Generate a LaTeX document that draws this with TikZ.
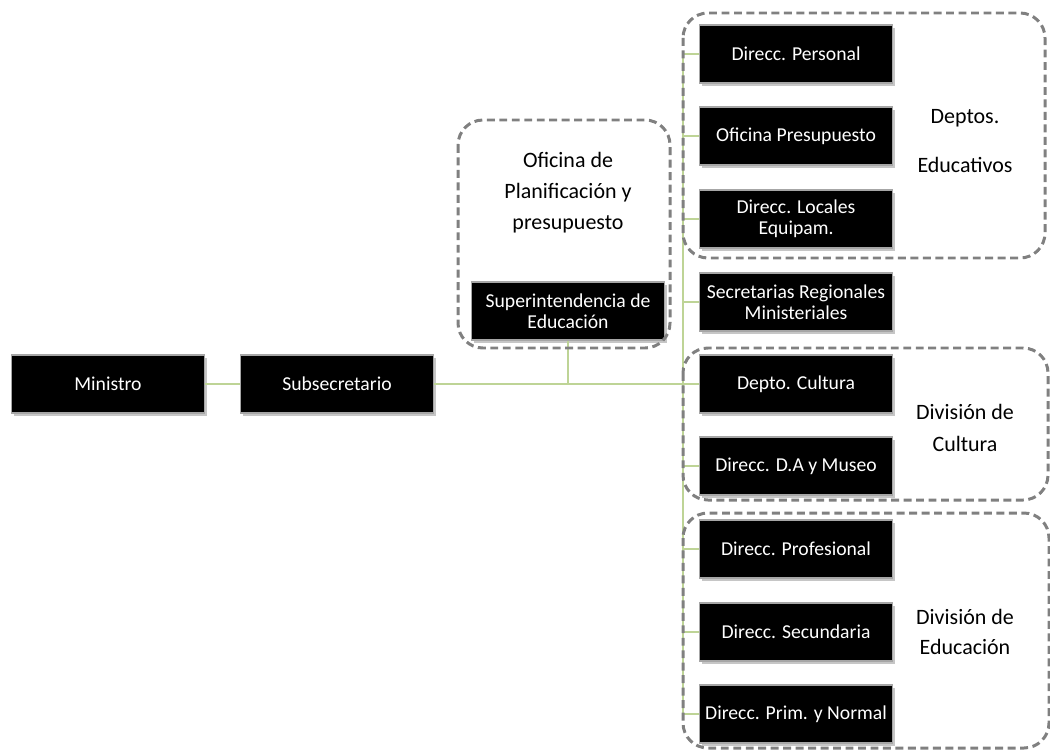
\documentclass[tikz,border=0pt]{standalone}
\usepackage{fontspec}
\setmainfont{Carlito}
\usetikzlibrary{shadows}

\definecolor{linkgreen}{RGB}{190,212,150}
\definecolor{groupgray}{RGB}{128,128,128}

\tikzset{
    unitbox/.style={draw=gray!70, line width=0.6pt, fill=black, text=white,
        minimum width=3.86cm, minimum height=1.16cm, inner sep=1pt,
        align=center, font=\fontsize{11.2}{12}\selectfont,
        drop shadow={opacity=0.45, shadow xshift=0.5mm, shadow yshift=-0.6mm}},
    grouplabel/.style={align=center, font=\fontsize{12.5}{15}\selectfont},
    groupbox/.style={draw=groupgray, line width=1.7pt, rounded corners=0.5cm,
        dash pattern=on 4.5pt off 2.6pt},
    link/.style={draw=linkgreen, line width=1.1pt}
}

\begin{document}
\begin{tikzpicture}[x=0.02cm, y=-0.02cm]
\useasboundingbox (0,0) rectangle (1050,750);

% trunk of the right column
\coordinate (trunk) at (683,384);

% main line
\node[unitbox] (ministro) at (108,384) {Ministro};
\node[unitbox] (subsec) at (337,384) {Subsecretario};
\node[unitbox] (superint) at (568,311) {Superintendencia de\\Educación};

% right column
\node[unitbox] (personal) at (796,54) {Direcc. Personal};
\node[unitbox] (presup) at (796,136) {Oficina Presupuesto};
\node[unitbox] (locales) at (796,219) {Direcc. Locales\\Equipam.};
\node[unitbox] (seremi) at (796,302) {Secretarias Regionales\\Ministeriales};
\node[unitbox] (cultura) at (796,384) {Depto. Cultura};
\node[unitbox] (museo) at (796,466) {Direcc. D.A y Museo};
\node[unitbox] (profesional) at (796,549) {Direcc. Profesional};
\node[unitbox] (secundaria) at (796,632) {Direcc. Secundaria};
\node[unitbox] (primaria) at (796,714) {Direcc. Prim. y Normal};

% connectors
\draw[link] (ministro) -- (subsec);
\draw[link] (subsec.east) -- (trunk);
\draw[link] (superint.south) -- (superint.south |- trunk);
\draw[link] (personal.west -| trunk) -- (primaria.west -| trunk);
\foreach \n in {personal,presup,locales,seremi,cultura,museo,profesional,secundaria,primaria}
    \draw[link] (\n.west -| trunk) -- (\n.west);

% dashed groups
\draw[groupbox] (458,120) rectangle (670,348);
\draw[groupbox] (683,13) rectangle (1045,258);
\draw[groupbox] (683,348) rectangle (1048,500);
\draw[groupbox] (683,513) rectangle (1049,748);

% group labels
\node[grouplabel] (planlbl) at (568,193) {Oficina de\\[2.6pt]Planificación y\\[2.6pt]presupuesto};
\node[grouplabel] (deptoslbl) at (965,141) {Deptos.\\[13pt]Educativos};
\node[grouplabel] (culturalbl) at (965,428) {División de\\[3pt]Cultura};
\node[grouplabel] (educlbl) at (965,632) {División de\\[2.5pt]Educación};

\end{tikzpicture}
\end{document}
